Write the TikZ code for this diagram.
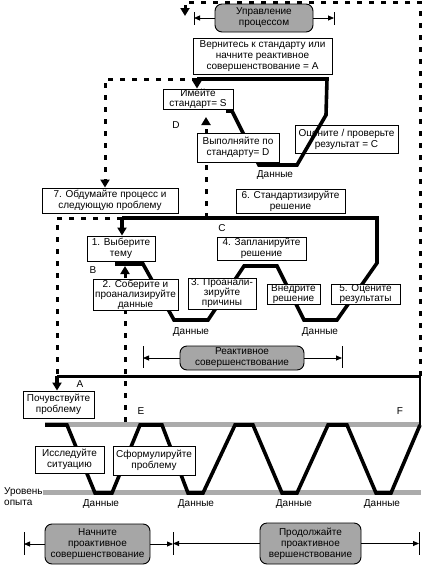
\documentclass[tikz,border=0pt]{standalone}
\usepackage{fontspec}
\newfontfamily\lbl{Liberation Sans}
\newcommand\lblf{\lbl\fontsize{10}{11}\selectfont}
\usetikzlibrary{arrows.meta}
\begin{document}
\begin{tikzpicture}[x=1pt,y=-1pt,
  box/.style={draw, fill=white, line width=0.9pt, inner sep=0pt, align=center, font=\lblf},
  gbox/.style={box, fill=black!35, rounded corners=7pt},
  lab/.style={inner sep=0pt, font=\lblf},
  flow/.style={line width=3.6pt},
  dsh/.style={line width=3pt, dash pattern=on 5pt off 7pt},
  bigtip/.style={-{Triangle[length=8pt,width=9pt]}},
  thinar/.style={line width=0.8pt, -{Triangle[length=6pt,width=5pt]}},
  bar/.style={line width=0.8pt},
  barfill/.style={fill=black!33},
]
\useasboundingbox (0,0) rectangle (429,565);

% grey experience bars
\fill[barfill] (45,422) rectangle (421,427);
\fill[barfill] (43,490) rectangle (421,495);

% coordinates
\coordinate (tl) at (197,79);
\coordinate (dl) at (105,79);
\coordinate (rc) at (122,218);
\coordinate (lc) at (57,218);
\coordinate (ha) at (57,376);
\coordinate (hf) at (420,376);
\coordinate (ff) at (420,425);
\coordinate (tr) at (420,2);
\coordinate (tt) at (185,2);
\coordinate (te) at (185,16);
\coordinate (dd) at (206,218);
\coordinate (du) at (206,117);
\coordinate (ee) at (125,422);
\coordinate (eu) at (125,266);

% boxes
\node[gbox, minimum width=98pt, minimum height=28pt] (mgmt) at (264,18) {Управление\\процессом};
\node[box, minimum width=139pt, minimum height=36pt] (ret) at (262.5,56) {Вернитесь к стандарту или\\начните реактивное\\совершенствование = A};
\node[box, minimum width=70pt, minimum height=20pt, font=\lbl\fontsize{10}{10}\selectfont] (S) at (198,99) {Имейте\\стандарт= S};
\node[box, minimum width=103pt, minimum height=28pt] (Cb) at (346.5,139) {Оцените / проверьте\\результат = C};
\node[box, minimum width=136pt, minimum height=25pt] (b7) at (110,200.5) {7. Обдумайте процесс и\\следующую проблему};
\node[box, minimum width=109pt, minimum height=24pt] (b6) at (290.5,201) {6. Стандартизируйте\\решение};
\node[box, minimum width=68pt, minimum height=25pt] (b1) at (121,248.5) {1. Выберите\\тему};
\node[box, minimum width=89pt, minimum height=23pt] (b4) at (261.5,248.5) {4. Запланируйте\\решение};
\node[gbox, minimum width=124pt, minimum height=24pt] (react) at (242,358) {Реактивное\\совершенствование};
\node[box, minimum width=71pt, minimum height=27pt] (feel) at (58.5,404.5) {Почувствуйте\\проблему};
\node[gbox, minimum width=105pt, minimum height=40pt] (start) at (97.5,544) {Начните\\проактивное\\совершенствование};
\node[gbox, minimum width=101pt, minimum height=41pt] (cont) at (310.5,543.5) {Продолжайте\\проактивное\\вершенствование};

% dashed connectors
\draw[dsh, bigtip] (hf) -- (tr) -- (tt) -- (te);
\draw[dsh, bigtip] (tl) -- (dl) -- (dl |- b7.north);
\draw[dsh] (rc) -- (lc) -- (ha);
\draw[dsh, bigtip] (dd) -- (du);
\draw[dsh, bigtip] (ee) -- (eu);

% thick flows
\draw[flow] (226,111) -- (232,111) -- (259,165) -- (297,165) -- (326,115) -- (327,79) -- (tl);
\draw[flow, bigtip] (tl) -- (tl |- S.north);
\draw[flow] (115,264) -- (143,264) -- (174,320) -- (208,320) -- (244,266) -- (277,266) -- (304,320) -- (337,320) -- (377,263) -- (377,218) -- (rc);
\draw[flow, bigtip] (rc) -- (rc |- b1.north);
\draw[line width=3pt] (ha) -- (hf);
\draw[line width=1.8pt] (hf) -- (ff);
\draw[flow, bigtip] (ha) -- (ha |- feel.north);
\draw[flow] (45,425) -- (67,425) -- (95,493) -- (112,493) -- (140,425) -- (162,425) -- (188,493) -- (203,493) -- (235,425) -- (253,425) -- (282,493) -- (297,493) -- (328,425) -- (347,425) -- (376,493) -- (391,493) -- (ff);

% boxes over the flows
\node[box, minimum width=82pt, minimum height=29pt] (Db) at (238,147.5) {Выполняйте по\\стандарту= D};
\node[box, minimum width=85pt, minimum height=31pt, font=\lbl\fontsize{10}{10}\selectfont] (b2) at (135.5,294.5) {2. Соберите и\\проанализируйте\\данные};
\node[box, minimum width=68pt, minimum height=31pt, font=\lbl\fontsize{10}{10}\selectfont] (b3) at (222,293.5) {3. Проанали-\\зируйте\\причины};
\node[box, minimum width=53pt, minimum height=20pt, font=\lbl\fontsize{10}{10}\selectfont] (b8) at (293.5,294.5) {Внедрите\\решение};
\node[box, minimum width=69pt, minimum height=20pt, font=\lbl\fontsize{10}{10}\selectfont] (b5) at (365.5,294) {5. Оцените\\результаты};
\node[box, minimum width=69pt, minimum height=27pt] (inv) at (69.5,459.5) {Исследуйте\\ситуацию};
\node[box, minimum width=82pt, minimum height=29pt] (form) at (154,460.5) {Сформулируйте\\проблему};

% range bars and arrows
\draw[bar] (194,12) -- (194,25);
\draw[bar] (334,12) -- (334,25);
\draw[thinar] (mgmt.west) -- (mgmt.west -| 194,0);
\draw[thinar] (mgmt.east) -- (mgmt.east -| 334,0);
\draw[bar] (143,346) -- (143,368);
\draw[bar] (342,346) -- (342,368);
\draw[thinar] (react.west) -- (react.west -| 143,0);
\draw[thinar] (react.east) -- (react.east -| 342,0);
\draw[bar] (24,532) -- (24,555);
\draw[bar] (173,532) -- (173,555);
\draw[bar] (419,532) -- (419,555);
\draw[thinar] (start.west) -- (start.west -| 24,0);
\draw[thinar] (start.east) -- (start.east -| 173,0);
\draw[thinar] (cont.west) -- (cont.west -| 173,0);
\draw[thinar] (cont.east) -- (cont.east -| 419,0);

% labels
\node[lab] (d1) at (275,175) {Данные};
\node[lab] (d2) at (191,332) {Данные};
\node[lab] (d3) at (320,332) {Данные};
\node[lab] (d4) at (101,504) {Данные};
\node[lab] (d5) at (196,504) {Данные};
\node[lab] (d6) at (294,504) {Данные};
\node[lab] (d7) at (382,504) {Данные};
\node[lab, align=left, anchor=north west] (lvl) at (4,487) {Уровень\\опыта};
\node[lab] (la) at (80,384) {A};
\node[lab] (lb) at (93,270) {B};
\node[lab] (lc2) at (222,228) {C};
\node[lab] (ld) at (176,125) {D};
\node[lab] (le) at (141,411) {E};
\node[lab] (lf) at (400,411) {F};
\end{tikzpicture}
\end{document}
